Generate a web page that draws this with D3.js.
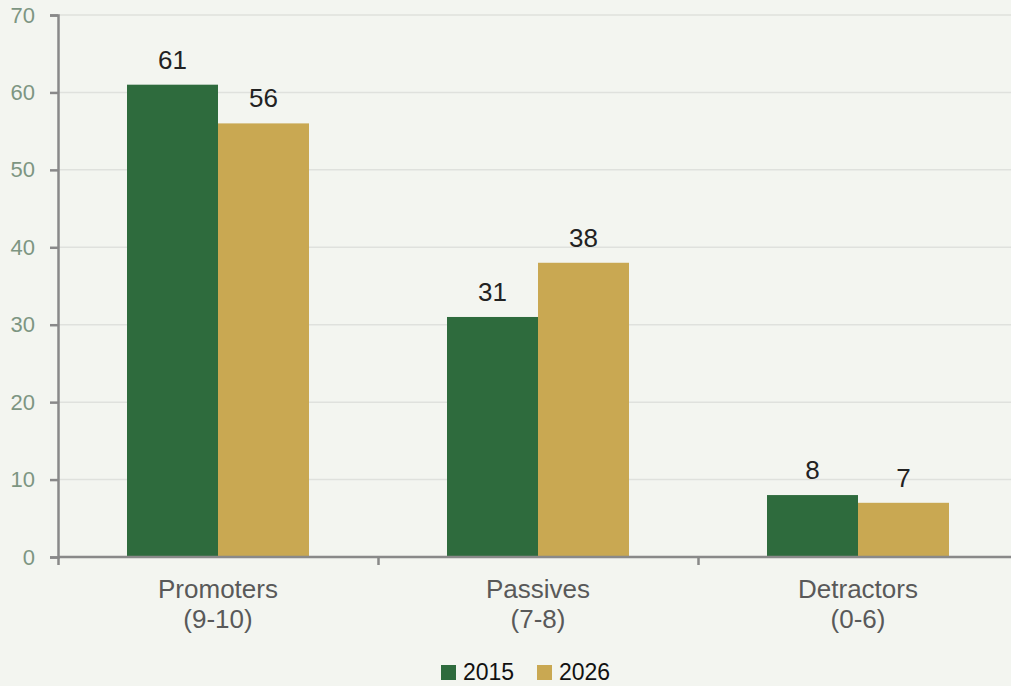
<!DOCTYPE html>
<html>
<head>
<meta charset="utf-8">
<script src="https://cdn.jsdelivr.net/npm/d3@7"></script>
<style>
  body { margin: 0; background: #f3f5f0; }
  svg { display: block; font-family: "Liberation Sans", Arial, sans-serif; }
</style>
</head>
<body>
<svg width="1011" height="686"></svg>
<script>
// chart data
categories = [["Promoters", "(9-10)"], ["Passives", "(7-8)"], ["Detractors", "(0-6)"]];
years = ["2015", "2026"];
values2015 = [61, 31, 8];
values2026 = [56, 38, 7];
yTicks = [0, 10, 20, 30, 40, 50, 60, 70];
colors = ["#2e6b3d", "#c9a852"];

svg = d3.select("svg");
margin = {left: 58, right: 0, top: 15, bottom: 129};
W = 1011, H = 686;

// band of 320 px per category, bars 91 px each
x0 = d3.scaleLinear().domain([0, categories.length]).range([margin.left, margin.left + 960]);

y = d3.scaleLinear().domain([0, 70]).range([H - margin.bottom, margin.top]);

// grid lines
svg.append("g")
  .selectAll("line")
  .data(yTicks.filter(function(d){ return d > 0; }))
  .join("line")
    .attr("x1", margin.left)
    .attr("x2", W)
    .attr("y1", function(d){ return y(d); })
    .attr("y2", function(d){ return y(d); })
    .attr("stroke", "#dfe1dd")
    .attr("stroke-width", 1.5);

// bars
series = [values2015, values2026];
barW = 91;
series.forEach(function(vals, si) {
  g = svg.append("g");
  g.selectAll("rect")
    .data(vals)
    .join("rect")
      .attr("x", function(d, i){ return x0(i + 0.5) - barW + si * barW; })
      .attr("y", function(d){ return y(d); })
      .attr("width", barW)
      .attr("height", function(d){ return y(0) - y(d); })
      .attr("fill", colors[si]);
  g.selectAll("text")
    .data(vals)
    .join("text")
      .attr("x", function(d, i){ return x0(i + 0.5) - barW / 2 + si * barW; })
      .attr("y", function(d){ return y(d) - 16; })
      .attr("text-anchor", "middle")
      .attr("font-size", 26)
      .attr("fill", "#222")
      .text(function(d){ return d; });
});

// y axis
yAxis = svg.append("g")
  .attr("transform", "translate(" + margin.left + ",0)")
  .call(d3.axisLeft(y).tickValues(yTicks).tickSize(8).tickPadding(15));
yAxis.select(".domain").attr("stroke", "#898989").attr("stroke-width", 2.5);
yAxis.selectAll(".tick line").attr("stroke", "#898989").attr("stroke-width", 2.5);
yAxis.selectAll(".tick text")
  .attr("font-size", 22)
  .attr("font-family", "Liberation Sans, Arial, sans-serif")
  .attr("fill", "#7d9582");

// x axis line with ticks at band edges
xAxis = svg.append("g")
  .attr("transform", "translate(0," + y(0) + ")")
  .call(d3.axisBottom(x0).tickValues([0, 1, 2, 3]).tickSize(8).tickFormat(""));
xAxis.select(".domain").attr("stroke", "#898989").attr("stroke-width", 2.5)
  .attr("d", "M" + margin.left + ",0H" + W);
xAxis.selectAll(".tick line").attr("stroke", "#898989").attr("stroke-width", 2.5);

// category labels
labels = svg.append("g").selectAll("text")
  .data(categories)
  .join("text")
    .attr("x", function(d, i){ return x0(i + 0.5); })
    .attr("y", 598)
    .attr("text-anchor", "middle")
    .attr("font-size", 26)
    .attr("fill", "#595959");
labels.selectAll("tspan")
  .data(function(d){ return d; })
  .join("tspan")
    .attr("x", function(){ return d3.select(this.parentNode).attr("x"); })
    .attr("dy", function(d, i){ return i === 0 ? 0 : 30; })
    .text(function(d){ return d; });

// legend
legend = svg.append("g").selectAll("g")
  .data(years)
  .join("g")
    .attr("transform", function(d, i){ return "translate(" + (441 + i * 96) + ",665)"; });
legend.append("rect")
  .attr("width", 15).attr("height", 15)
  .attr("fill", function(d, i){ return colors[i]; });
legend.append("text")
  .attr("x", 22).attr("y", 15)
  .attr("font-size", 23)
  .attr("fill", "#111")
  .text(function(d){ return d; });
</script>
</body>
</html>
